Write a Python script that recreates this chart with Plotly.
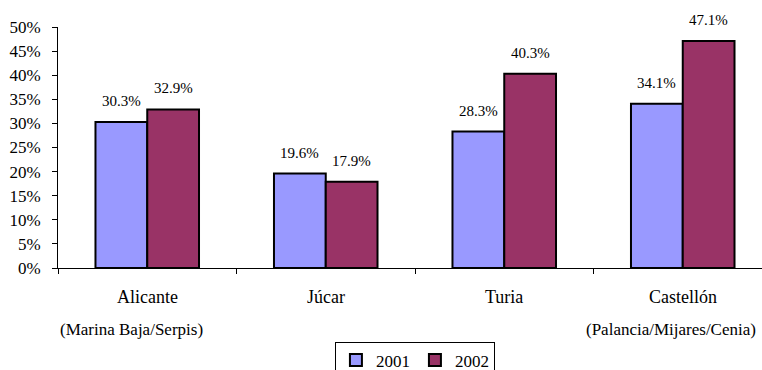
import plotly.graph_objects as go

# Cuencas y porcentajes por año
categories = ["Alicante", "Júcar", "Turia", "Castellón"]
subtitles = ["(Marina Baja/Serpis)", "", "", "(Palancia/Mijares/Cenia)"]
values_2001 = [30.3, 19.6, 28.3, 34.1]
values_2002 = [32.9, 17.9, 40.3, 47.1]
y_ticks = [0, 5, 10, 15, 20, 25, 30, 35, 40, 45, 50]

FONT = "Times New Roman, Liberation Serif, DejaVu Serif, serif"
BLUE = "#9999FF"
PLUM = "#993366"

fig = go.Figure()
for name, vals, color in [("2001", values_2001, BLUE), ("2002", values_2002, PLUM)]:
    fig.add_trace(go.Bar(
        x=categories, y=vals, name=name,
        marker=dict(color=color, line=dict(color="black", width=2)),
    ))

# Etiquetas de valor sobre cada barra
bar_w = 0.29
for s, vals in enumerate([values_2001, values_2002]):
    off = (-0.5 if s == 0 else 0.5) * bar_w
    for i, v in enumerate(vals):
        fig.add_annotation(
            x=i + off, y=v, xref="x", yref="y", text=f"{v:.1f}%",
            showarrow=False, yanchor="bottom", yshift=11,
            font=dict(family=FONT, size=15, color="black"),
        )

# Nombres de las cuencas bajo el eje
for i, c in enumerate(categories):
    fig.add_annotation(
        x=i, y=0, xref="x", yref="paper", text=c, showarrow=False,
        yanchor="top", yshift=-17, font=dict(family=FONT, size=18, color="black"),
    )
fig.add_annotation(
    x=0, y=0, xref="paper", yref="paper", text=subtitles[0], showarrow=False,
    xanchor="left", yanchor="top", yshift=-50, font=dict(family=FONT, size=17, color="black"),
)
fig.add_annotation(
    x=1, y=0, xref="paper", yref="paper", text=subtitles[3], showarrow=False,
    xanchor="right", xshift=-4, yanchor="top", yshift=-50,
    font=dict(family=FONT, size=17, color="black"),
)

fig.update_layout(
    width=762, height=370,
    margin=dict(l=58, r=0, t=27, b=102, autoexpand=False),
    paper_bgcolor="white", plot_bgcolor="white",
    barmode="group", bargap=0.42, bargroupgap=0,
    font=dict(family=FONT, size=16, color="black"),
    showlegend=True,
    legend=dict(
        orientation="h", x=0.507, xanchor="center", y=-0.305, yanchor="top",
        bordercolor="black", borderwidth=1, bgcolor="white",
        font=dict(family=FONT, size=17, color="black"),
        itemwidth=30, tracegroupgap=0,
    ),
    xaxis=dict(
        type="category", range=[-0.5, 3.444],
        showticklabels=False, tickson="boundaries",
        ticks="outside", ticklen=5, tickcolor="black",
        showline=True, linecolor="black", linewidth=1,
        showgrid=False, zeroline=False,
    ),
    yaxis=dict(
        range=[0, 50], tickvals=y_ticks, ticktext=[f"{t}%" for t in y_ticks],
        ticks="outside", ticklen=5, tickcolor="black", ticklabelstandoff=8,
        showline=True, linecolor="black", linewidth=1,
        showgrid=False, zeroline=False,
        tickfont=dict(family=FONT, size=17, color="black"),
    ),
)

fig.write_html("out.html")
